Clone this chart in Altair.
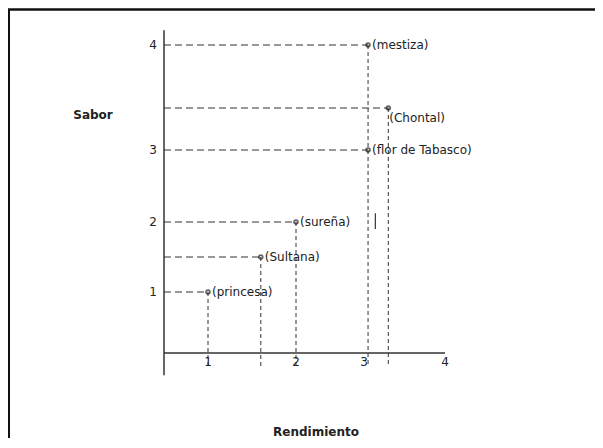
import altair as alt
import pandas as pd

# ---- data ----
variedades = ["princesa", "Sultana", "sureña", "flor de Tabasco", "mestiza", "Chontal"]
rendimiento = [1.0, 1.6, 2.0, 3.05, 3.05, 3.3]
sabor = [1.0, 1.5, 2.0, 3.0, 4.0, 3.4]
x_ticks = [1, 2, 3, 4]
y_ticks = [1, 2, 3, 4]
x_title = "Rendimiento"
y_title = "Sabor"

# axis extents in data units
x_axis_start = 0.5
x_axis_end = 4.0
y_axis_bottom = -0.19
y_axis_top = 4.14
x_axis_level = 0.13
drop_to = -0.06

W, H = 587, 430
FONT = "DejaVu Sans"
FS = 12
INK = "#222222"

xscale = alt.Scale(domain=[1, 2, 3, 4], range=[200, 288, 356, 437], nice=False, zero=False)
yscale = alt.Scale(domain=[1, 2, 3, 4], range=[284, 214, 142, 37], nice=False, zero=False)

pts = pd.DataFrame({"var": variedades, "rend": rendimiento, "sabor": sabor})
pts["label"] = "(" + pts["var"] + ")"
pts["x0"] = x_axis_start
pts["bottom"] = drop_to

X = lambda f: alt.X(f, scale=xscale, axis=None)
Y = lambda f: alt.Y(f, scale=yscale, axis=None)

base = alt.Chart(pts)

hdash = base.mark_rule(strokeDash=[7, 4], color="#333", strokeWidth=1).encode(
    x=X("x0:Q"), x2="rend:Q", y=Y("sabor:Q"))
# one vertical drop line per distinct x position (overlapping drops merge into one)
vdash = base.transform_joinaggregate(
    top="max(sabor)", groupby=["rend"]
).transform_filter("datum.sabor == datum.top").mark_rule(
    strokeDash=[4, 3], color="#333", strokeWidth=1).encode(
    x=X("rend:Q"), y=Y("sabor:Q"), y2="bottom:Q")
points = base.mark_point(filled=False, size=14, strokeWidth=1.8, color=INK).encode(
    x=X("rend:Q"), y=Y("sabor:Q"))
labels = base.transform_filter("datum.var != 'Chontal'").mark_text(
    align="left", baseline="middle", dx=4, font=FONT, fontSize=FS, color=INK).encode(
    x=X("rend:Q"), y=Y("sabor:Q"), text="label:N")
label_ch = base.transform_filter("datum.var == 'Chontal'").mark_text(
    align="left", baseline="middle", dx=1, dy=10, font=FONT, fontSize=FS, color=INK).encode(
    x=X("rend:Q"), y=Y("sabor:Q"), text="label:N")

# stray mark near sureña line (present in the reference drawing)
stray = alt.Chart(pd.DataFrame({"x": [3.14], "y1": [1.9], "y2": [2.12]})).mark_rule(
    color="#333", strokeWidth=1.2).encode(x=X("x:Q"), y=Y("y1:Q"), y2="y2:Q")

axes_df = pd.DataFrame({"x1": [x_axis_start, x_axis_start], "x2": [x_axis_start, x_axis_end],
                        "y1": [y_axis_bottom, x_axis_level], "y2": [y_axis_top, x_axis_level]})
axes = alt.Chart(axes_df).mark_rule(color="#333", strokeWidth=1.5).encode(
    x=X("x1:Q"), x2="x2:Q", y=Y("y1:Q"), y2="y2:Q")

xt = pd.DataFrame({"t": x_ticks, "lvl": x_axis_level, "lab": [str(v) for v in x_ticks]})
xtick_labels = alt.Chart(xt).mark_text(baseline="top", dy=4, font=FONT, fontSize=FS, color=INK).encode(
    x=X("t:Q"), y=Y("lvl:Q"), text="lab:N")
yt = pd.DataFrame({"t": y_ticks, "lvl": x_axis_start, "lab": [str(v) for v in y_ticks]})
ytick_labels = alt.Chart(yt).mark_text(align="right", baseline="middle", dx=-7, font=FONT, fontSize=FS, color=INK).encode(
    x=X("lvl:Q"), y=Y("t:Q"), text="lab:N")

ttl = pd.DataFrame({"a": [0]})
y_ttl = alt.Chart(ttl).mark_text(font=FONT, fontSize=12, fontWeight="bold", color=INK).encode(
    x=alt.value(85), y=alt.value(107), text=alt.value(y_title))
x_ttl = alt.Chart(ttl).mark_text(font=FONT, fontSize=12, fontWeight="bold", color=INK).encode(
    x=alt.value(308), y=alt.value(424), text=alt.value(x_title))

frame_left = alt.Chart(ttl).mark_rule(color="#111", strokeWidth=2).encode(
    x=alt.value(1), y=alt.value(1), y2=alt.value(H))
frame_top = alt.Chart(ttl).mark_rule(color="#111", strokeWidth=2.5).encode(
    x=alt.value(0), x2=alt.value(W), y=alt.value(1.5))

chart = alt.layer(
    frame_left, frame_top, hdash, vdash, stray, axes, points, labels, label_ch,
    xtick_labels, ytick_labels, y_ttl, x_ttl
).properties(
    width=W, height=H, padding=0, autosize=alt.AutoSizeParams(type="none"),
    background="white"
).configure_view(stroke=None)

chart.save("out.html", embed_options={"renderer": "svg", "actions": False})
